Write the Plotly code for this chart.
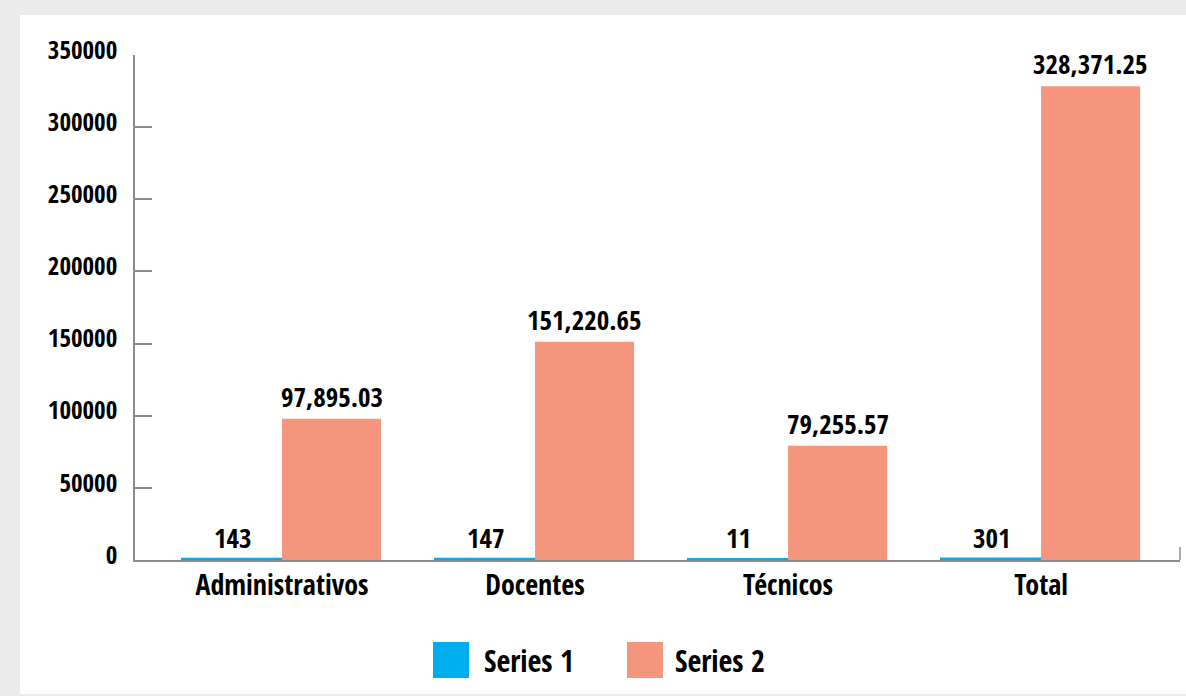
import plotly.graph_objects as go

# Categories and series values
categories = ["Administrativos", "Docentes", "Técnicos", "Total"]
series_names = ["Series 1", "Series 2"]
series1 = [143, 147, 11, 301]
series2 = [97895.03, 151220.65, 79255.57, 328371.25]
y_ticks = [0, 50000, 100000, 150000, 200000, 250000, 300000, 350000]

colors = ["#00AEEF", "#F4967E"]
FONT = "Open Sans Condensed, Roboto Condensed, Open Sans, sans-serif"
AXIS_GREY = "#8c8c8c"

W, H = 1186, 696
L, R, T, B = 135, 6, 55, 136
PW, PH = W - L - R, H - T - B


def px_x(px):
    return (px - L) / PW


def px_y(py):
    return (H - B - py) / PH


fig = go.Figure()
fig.add_trace(go.Bar(x=categories, y=series1, name=series_names[0],
                     marker=dict(color=colors[0], line=dict(color=colors[0], width=4)),
                     showlegend=False))
fig.add_trace(go.Bar(x=categories, y=series2, name=series_names[1],
                     marker=dict(color=colors[1], line=dict(width=0)),
                     showlegend=False))

# Value labels above each bar
bar_half = 49.5
for vals, shift, fmt in [(series1, -bar_half, "{:,.0f}"), (series2, bar_half, "{:,.2f}")]:
    for c, v in zip(categories, vals):
        fig.add_annotation(x=c, y=v, xref="x", yref="y", text=fmt.format(v),
                           showarrow=False, xshift=shift, yanchor="bottom", yshift=2,
                           font=dict(family=FONT, size=27, weight="bold", color="black"))

shapes = [
    # white panel behind the chart
    dict(type="rect", xref="paper", yref="paper", x0=px_x(20), x1=px_x(W + 5),
         y0=px_y(694), y1=px_y(15), fillcolor="white", line=dict(width=0), layer="below"),
    # short end tick at the right end of the category axis
    dict(type="line", xref="paper", yref="paper", x0=1, x1=1, y0=0, y1=13 / PH,
         line=dict(color=AXIS_GREY, width=1.5)),
]

# Legend drawn as swatches with labels
legend_boxes = [(433, 482), (627, 673)]
for (sx, tx), name, col in zip(legend_boxes, series_names, colors):
    shapes.append(dict(type="rect", xref="paper", yref="paper",
                       x0=px_x(sx), x1=px_x(sx + 36), y0=px_y(678), y1=px_y(642),
                       fillcolor=col, line=dict(width=0)))
    fig.add_annotation(x=px_x(tx), y=px_y(660), xref="paper", yref="paper",
                       xanchor="left", yanchor="middle", showarrow=False, text=name,
                       font=dict(family=FONT, size=30, weight="bold", color="black"))

fig.update_layout(
    width=W, height=H,
    margin=dict(l=L, r=R, t=T, b=B, autoexpand=False),
    paper_bgcolor="#EBEBEB", plot_bgcolor="white",
    barmode="group", bargap=0.217, bargroupgap=0,
    shapes=shapes,
    font=dict(family=FONT, color="black"),
    xaxis=dict(type="category", range=[-0.581, 3.549], showline=True,
               linecolor=AXIS_GREY, linewidth=1.5, ticks="", showgrid=False,
               tickfont=dict(family=FONT, size=28, weight="bold", color="black")),
    yaxis=dict(range=[0, 350000], tickvals=y_ticks, tickformat="d",
               showline=True, linecolor=AXIS_GREY, linewidth=1.5,
               ticks="inside", ticklen=17, tickwidth=1.5, tickcolor=AXIS_GREY,
               showgrid=False, zeroline=False, ticklabelstandoff=11, ticklabelshift=-5,
               tickfont=dict(family=FONT, size=25, weight="bold", color="black")),
)

fig.write_html("out.html")
